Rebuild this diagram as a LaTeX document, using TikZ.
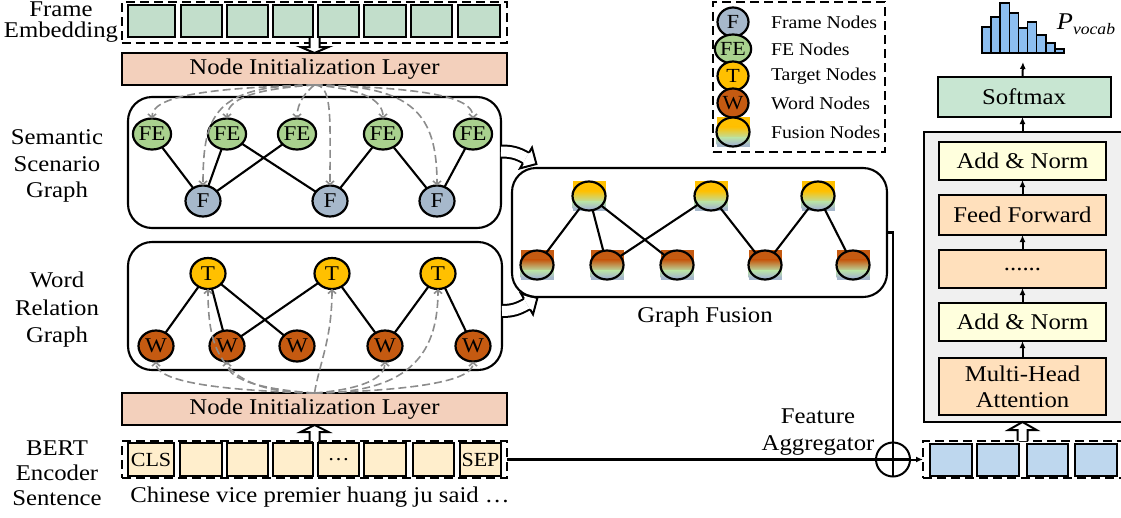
\documentclass[tikz,border=0pt]{standalone}
\usepackage{fontspec}
\setmainfont[FakeStretch=1.1]{Liberation Serif}
\usetikzlibrary{arrows.meta,calc,shapes.geometric}
\definecolor{embgreen}{RGB}{194,222,203}
\definecolor{initpeach}{RGB}{243,208,188}
\definecolor{fegreen}{RGB}{169,209,142}
\definecolor{fgrey}{RGB}{166,184,203}
\definecolor{torange}{RGB}{255,192,0}
\definecolor{wbrown}{RGB}{197,90,17}
\definecolor{bertyellow}{RGB}{255,238,204}
\definecolor{lgreen}{RGB}{185,224,168}
\definecolor{anyellow}{RGB}{255,255,221}
\definecolor{ffpeach}{RGB}{255,224,188}
\definecolor{smgreen}{RGB}{200,230,210}
\definecolor{tgray}{RGB}{240,240,240}
\definecolor{outblue}{RGB}{190,215,238}
\definecolor{histblue}{RGB}{140,190,240}
\definecolor{dgray}{RGB}{140,140,140}
\newcommand{\fusnode}[4]{%
  \path[fill=#4] (#2-16.5,#3+15) rectangle (#2+16.5,#3+4.8);
  \shade[top color=#4, bottom color=lgreen] (#2-16.5,#3+5.2) rectangle (#2+16.5,#3-6.2);
  \shade[top color=lgreen, bottom color=fgrey] (#2-16.5,#3-5.8) rectangle (#2+16.5,#3-12.2);
  \path[fill=fgrey] (#2-16.5,#3-11.8) rectangle (#2+16.5,#3-15);
  \node[fusell] (#1) at (#2,#3) {};
}
\begin{document}
\begin{tikzpicture}[x=1pt,y=1pt,
  every node/.style={inner sep=0pt, outer sep=0pt},
  txt/.style={font=\fontsize{22.5}{27}\selectfont, align=center},
  rbox/.style={draw, line width=2pt, rectangle, font=\fontsize{22.5}{26}\selectfont, align=center},
  dbox/.style={draw, line width=2pt, dash pattern=on 9pt off 5pt, rectangle},
  gbox/.style={draw, line width=2.1pt, rectangle, rounded corners=24pt},
  gnode/.style={ellipse, draw, line width=2.2pt, minimum width=35, minimum height=31, font=\fontsize{21}{21}\selectfont},
  lnode/.style={ellipse, draw, line width=2.2pt, minimum width=31, minimum height=29, font=\fontsize{20}{20}\selectfont},
  fusell/.style={ellipse, draw, line width=2.2pt, minimum width=33, minimum height=29},
  edge/.style={line width=2.1pt},
  dasharr/.style={draw=dgray, dash pattern=on 8pt off 4pt, line width=1.6pt, -{Straight Barb[length=3.5pt,width=8pt]}},
  hollow/.style={line width=2pt, fill=white},
  arr/.style={line width=2pt, -{Latex[length=7pt,width=6pt]}},
  leg/.style={font=\fontsize{18}{20}\selectfont, anchor=west}
]
\useasboundingbox (0,0) rectangle (1121,-517);

% ---------- left labels ----------
\node[txt, font=\fontsize{22.5}{21.5}\selectfont] (lblframe) at (61,-22) {Frame\\Embedding};
\node[txt, font=\fontsize{22.5}{26.5}\selectfont] (lblsem) at (57,-166) {Semantic\\Scenario\\Graph};
\node[txt, font=\fontsize{22.5}{27.5}\selectfont] (lblword) at (57,-310) {Word\\Relation\\Graph};
\node[txt, font=\fontsize{22.5}{25}\selectfont] (lblbert) at (57,-473) {BERT\\Encoder\\Sentence};

% ---------- frame embedding ----------
\node[dbox, minimum width=385, minimum height=41] (femb) at (314,-22.5) {};
\foreach \a/\b [count=\i] in {128/175,181/222,227/268,273/313,318/359,364/406,411/452,458/500}{
  \node[draw, line width=2pt, fill=embgreen, minimum width=\b-\a, minimum height=32] (fe\i box) at ({(\a+\b)/2},-21) {};
}
\node[rbox, fill=initpeach, minimum width=385, minimum height=32] (init1) at (314.5,-69) {Node Initialization Layer};
\draw[hollow] ($(init1.north)+(-5,15)$) -- ++(0,-9) -- ++(-9,0) -- (init1.north) -- ++(14,6) -- ++(-9,0) -- ++(0,9);

% ---------- semantic scenario graph ----------
\node[gbox, minimum width=373, minimum height=131] (sem) at (314.5,-162.5) {};
\node[gnode, fill=fegreen] (fe1) at (152,-134) {FE};
\node[gnode, fill=fegreen] (fe2) at (227,-134) {FE};
\node[gnode, fill=fegreen] (fe3) at (297,-134) {FE};
\node[gnode, fill=fegreen] (fe4) at (383,-134) {FE};
\node[gnode, fill=fegreen] (fe5) at (473,-134) {FE};
\node[gnode, fill=fgrey] (f1) at (203,-201) {F};
\node[gnode, fill=fgrey] (f2) at (330,-201) {F};
\node[gnode, fill=fgrey] (f3) at (437,-201) {F};
\draw[edge] (fe1) -- (f1);
\draw[edge] (fe2) -- (f1);
\draw[edge] (fe3) -- (f1);
\draw[edge] (fe2) -- (f2);
\draw[edge] (fe4) -- (f2);
\draw[edge] (fe4) -- (f3);
\draw[edge] (fe5) -- (f3);
\draw[dasharr] (init1.south) .. controls +(-110,-3) and +(0,22) .. (fe1.north);
\draw[dasharr] (init1.south) .. controls +(-60,-4) and +(0,20) .. (fe2.north);
\draw[dasharr] (init1.south) .. controls +(-8,-6) and +(0,16) .. (fe3.north);
\draw[dasharr] (init1.south) .. controls +(45,-4) and +(0,20) .. (fe4.north);
\draw[dasharr] (init1.south) .. controls +(110,-3) and +(0,22) .. (fe5.north);
\draw[dasharr] (init1.south) .. controls +(-100,0) and +(0,70) .. (f1.north);
\draw[dasharr] (init1.south) .. controls +(18,0) and +(0,70) .. (f2.north);
\draw[dasharr] (init1.south) .. controls +(100,0) and +(0,70) .. (f3.north);

% ---------- word relation graph ----------
\node[gbox, minimum width=374, minimum height=128] (word) at (315,-306) {};
\node[gnode, fill=torange] (t1) at (208,-273.5) {T};
\node[gnode, fill=torange] (t2) at (332,-273.5) {T};
\node[gnode, fill=torange] (t3) at (438,-273.5) {T};
\node[gnode, fill=wbrown] (w1) at (156,-346) {W};
\node[gnode, fill=wbrown] (w2) at (227,-346) {W};
\node[gnode, fill=wbrown] (w3) at (297,-346) {W};
\node[gnode, fill=wbrown] (w4) at (385,-346) {W};
\node[gnode, fill=wbrown] (w5) at (473,-346) {W};
\draw[edge] (t1) -- (w1);
\draw[edge] (t1) -- (w2);
\draw[edge] (t1) -- (w3);
\draw[edge] (t2) -- (w2);
\draw[edge] (t2) -- (w4);
\draw[edge] (t3) -- (w4);
\draw[edge] (t3) -- (w5);

\node[rbox, fill=initpeach, minimum width=385, minimum height=32] (init2) at (314.5,-409) {Node Initialization Layer};
\draw[dasharr] (init2.north) .. controls +(-110,3) and +(0,-18) .. (w1.south);
\draw[dasharr] (init2.north) .. controls +(-60,4) and +(0,-16) .. (w2.south);
\draw[dasharr] (init2.north) .. controls +(50,4) and +(0,-16) .. (w4.south);
\draw[dasharr] (init2.north) .. controls +(110,3) and +(0,-18) .. (w5.south);
\draw[dasharr] (init2.north) .. controls +(-95,0) and +(0,-60) .. (t1.south);
\draw[dasharr] (init2.north) .. controls +(5,30) and +(0,-50) .. (t2.south);
\draw[dasharr] (init2.north) .. controls +(100,0) and +(0,-60) .. (t3.south);

% ---------- BERT row ----------
\node[dbox, minimum width=385, minimum height=37] (bertrow) at (314.5,-459.5) {};
\foreach \a/\b/\t [count=\i] in {128/174/CLS,180/222/,227/268/,273/313/,318/359/{\ldots},364/406/,413/454/,460/501/SEP}{
  \node[draw, line width=2pt, fill=bertyellow, minimum width=\b-\a, minimum height=33, font=\fontsize{20}{20}\selectfont] (bert\i) at ({(\a+\b)/2},-459.5) {\t};
}
\draw[hollow] ($(bertrow.north)+(-5,0)$) -- ++(0,9) -- ++(-9,0) -- (init2.south) -- ++(14,-7) -- ++(-9,0) -- ($(bertrow.north)+(5,0)$);
\node[txt] (sentence) at (320,-497) {Chinese vice premier huang ju said \ldots};

% ---------- curved hollow arrows ----------
\draw[line width=2pt, double=white, double distance=10pt] ($(sem.east)+(0,11)$) to[out=0,in=150] (526,-158);
\begin{scope}[shift={(526,-158)}, rotate=-30]
  \path[fill=white] (0,12) -- (12,0) -- (0,-12) -- cycle;
  \draw[line width=2pt] (0,6.2) -- (0,12) -- (12,0) -- (0,-12) -- (0,-6.2);
\end{scope}
\draw[line width=2pt, double=white, double distance=10pt] ($(word.east)+(0,-5)$) to[out=0,in=-150] (527,-304);
\begin{scope}[shift={(527,-304)}, rotate=30]
  \path[fill=white] (0,12) -- (12,0) -- (0,-12) -- cycle;
  \draw[line width=2pt] (0,6.2) -- (0,12) -- (12,0) -- (0,-12) -- (0,-6.2);
\end{scope}

% ---------- graph fusion ----------
\node[gbox, minimum width=375, minimum height=129] (fusion) at (699.5,-232.5) {};
\fusnode{u1}{589}{-196}{torange}
\fusnode{u2}{711}{-196}{torange}
\fusnode{u3}{818}{-196}{torange}
\fusnode{b1}{537}{-265}{wbrown}
\fusnode{b2}{607}{-265}{wbrown}
\fusnode{b3}{677}{-265}{wbrown}
\fusnode{b4}{765}{-265}{wbrown}
\fusnode{b5}{853}{-265}{wbrown}
\draw[edge] (u1) -- (b1);
\draw[edge] (u1) -- (b2);
\draw[edge] (u1) -- (b3);
\draw[edge] (u2) -- (b2);
\draw[edge] (u2) -- (b4);
\draw[edge] (u3) -- (b4);
\draw[edge] (u3) -- (b5);
\node[txt] (gflabel) at (705,-317) {Graph Fusion};

% ---------- legend ----------
\node[dbox, minimum width=172, minimum height=150] (legend) at (799,-77) {};
\node[lnode, fill=fgrey] (lf) at (733,-22) {F};
\node[lnode, fill=fegreen] (lfe) at (733,-49) {FE};
\node[lnode, fill=torange] (lt) at (733,-76) {T};
\node[lnode, fill=wbrown] (lw) at (733,-103) {W};
\fusnode{lfu}{733}{-132}{torange}
\node[leg] (lft) at (771,-22) {Frame Nodes};
\node[leg] (lfet) at (771,-49) {FE Nodes};
\node[leg] (ltt) at (771,-76) {Target Nodes};
\node[leg] (lwt) at (771,-103) {Word Nodes};
\node[leg] (lfut) at (771,-132) {Fusion Nodes};

% ---------- aggregator ----------
\node[circle, draw, line width=2pt, minimum size=34] (agg) at (893,-459.5) {};
\node[dbox, minimum width=202, minimum height=37] (outrow) at (1024,-459.5) {};
\foreach \a/\b [count=\i] in {930/972,977/1019,1027/1068,1075/1117}{
  \node[draw, line width=2pt, fill=outblue, minimum width=\b-\a, minimum height=32] (out\i) at ({(\a+\b)/2},-459.5) {};
}
\draw[edge] (fusion.east) -| (agg.south);
\draw[edge] (bertrow.east) -- (agg.east);
\draw[arr] (agg.east) -- (outrow.west);
\node[txt, font=\fontsize{22.5}{27}\selectfont] (aglabel) at (818,-432) {Feature\\Aggregator};

% ---------- transformer ----------
\node[draw, line width=2pt, fill=tgray, minimum width=202, minimum height=290] (tbox) at (1025,-277) {};
\node[rbox, fill=anyellow, minimum width=167, minimum height=38] (an1) at (1022.5,-161) {Add \& Norm};
\node[rbox, fill=ffpeach, minimum width=167, minimum height=40] (ff) at (1022.5,-215) {Feed Forward};
\node[rbox, fill=ffpeach, minimum width=167, minimum height=38] (dots) at (1022.5,-269) {......};
\node[rbox, fill=anyellow, minimum width=167, minimum height=38] (an2) at (1022.5,-322) {Add \& Norm};
\node[rbox, fill=ffpeach, minimum width=167, minimum height=57, font=\fontsize{22.5}{26}\selectfont] (mha) at (1022.5,-386.5) {Multi-Head\\Attention};
\draw[arr] (mha.north) -- (an2.south);
\draw[arr] (an2.north) -- (dots.south);
\draw[arr] (dots.north) -- (ff.south);
\draw[arr] (ff.north) -- (an1.south);
\draw[hollow] ($(outrow.north -| an1.south)+(-5,0)$) -- ++(0,11) -- ++(-9,0) -- (an1.south |- tbox.south) -- ++(14,-8) -- ++(-9,0) -- ++(0,-11);
\node[rbox, fill=smgreen, minimum width=173, minimum height=40] (softmax) at (1024,-97) {Softmax};
\draw[arr] (an1.north |- tbox.north) -- (an1.north |- softmax.south);
\coordinate (histbase) at (1023,-62);
\draw[arr] (an1.north |- softmax.north) -- (histbase);
\foreach \h [count=\i] in {27,17,3,13,28,22,35,43,49}{
  \draw[line width=1.6pt, fill=histblue] ({982+(\i-1)*9.1},-53) rectangle ({982+\i*9.1},-\h);
}
\node[font=\fontsize{24}{24}\selectfont] (pvocab) at (1086,-24) {\itshape P\raisebox{-0.45ex}{\fontsize{16}{16}\selectfont vocab}};
\end{tikzpicture}
\end{document}
